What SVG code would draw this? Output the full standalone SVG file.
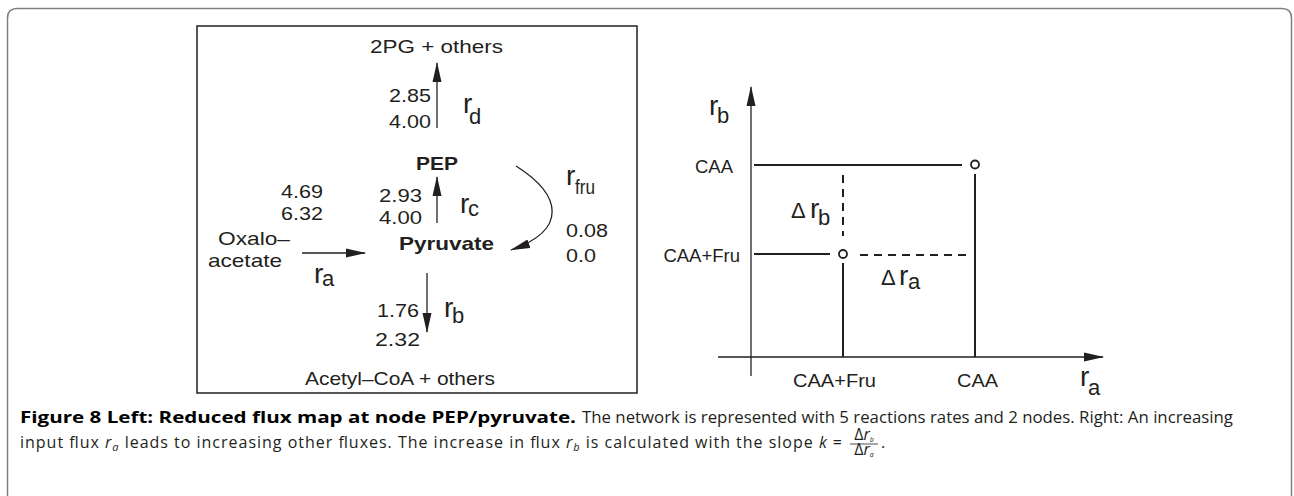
<svg xmlns="http://www.w3.org/2000/svg" width="1294" height="496" viewBox="0 0 1294 496">
<style>
.t{font-family:"Liberation Sans",Arial,sans-serif;font-size:18.5px;fill:#231f20}
.b{font-weight:bold}
.r{font-size:28px}
.s{font-size:22px}
.d{font-size:22px}
.cap{font-family:"Open Sans","Noto Sans",sans-serif;font-size:16px;fill:#231f20}
.cb{font-weight:bold;fill:#000}
.i{font-style:italic}
.ln{stroke:#231f20;fill:none;stroke-width:1.3}
.th{stroke:#231f20;fill:none;stroke-width:2}
.ds{stroke:#231f20;fill:none;stroke-width:2;stroke-dasharray:8 6}
</style>
<defs>
<marker id="ah" markerWidth="20" markerHeight="10" refX="19" refY="5" orient="auto" markerUnits="userSpaceOnUse"><path d="M0,0.5 L20,5 L0,9.5 Z" fill="#231f20"/></marker>
</defs>
<rect width="1294" height="496" fill="#fff"/>
<path d="M7.5,496 V18 Q7.5,8.5 17,8.5 H1282 Q1291.5,8.5 1291.5,18 V496" fill="none" stroke="#808080" stroke-width="1.5"/>

<g id="fluxmap">
<rect x="197" y="26" width="440" height="367" fill="none" stroke="#231f20" stroke-width="1.5"/>
</g>

<g id="connectors">
<line class="ln" x1="437" y1="128" x2="437" y2="63" marker-end="url(#ah)"/>
<line class="ln" x1="437" y1="223" x2="437" y2="177" marker-end="url(#ah)"/>
<line class="ln" x1="302" y1="253" x2="365" y2="253" marker-end="url(#ah)"/>
<line class="ln" x1="427" y1="273" x2="427" y2="332" marker-end="url(#ah)"/>
<path class="ln" d="M516,166 C562,195 568,230 511,250" marker-end="url(#ah)"/>
</g>

<g id="node-2pg"><text class="t" x="370" y="53" textLength="133" lengthAdjust="spacingAndGlyphs">2PG + others</text></g>
<g id="label-rd">
<text class="t" x="389" y="102" textLength="42" lengthAdjust="spacingAndGlyphs">2.85</text>
<text class="t" x="389" y="128" textLength="42" lengthAdjust="spacingAndGlyphs">4.00</text>
<text class="t r" x="463" y="113">r</text><text class="t s" x="469" y="124">d</text>
</g>
<g id="node-pep"><text class="t b" x="416" y="170" textLength="42" lengthAdjust="spacingAndGlyphs">PEP</text></g>
<g id="label-rc">
<text class="t" x="379" y="202" textLength="43" lengthAdjust="spacingAndGlyphs">2.93</text>
<text class="t" x="379" y="224" textLength="43" lengthAdjust="spacingAndGlyphs">4.00</text>
<text class="t r" x="460" y="213">r</text><text class="t s" x="468" y="216">c</text>
</g>
<g id="node-oxalo">
<text class="t" x="218" y="245" textLength="72" lengthAdjust="spacingAndGlyphs">Oxalo–</text>
<text class="t" x="208" y="267" textLength="74" lengthAdjust="spacingAndGlyphs">acetate</text>
</g>
<g id="label-ra">
<text class="t" x="281" y="198" textLength="42" lengthAdjust="spacingAndGlyphs">4.69</text>
<text class="t" x="281" y="220" textLength="42" lengthAdjust="spacingAndGlyphs">6.32</text>
<text class="t r" x="314" y="283">r</text><text class="t s" x="322" y="286">a</text>
</g>
<g id="node-pyruvate"><text class="t b" x="399" y="250" textLength="95" lengthAdjust="spacingAndGlyphs">Pyruvate</text></g>
<g id="label-rb">
<text class="t" x="377" y="317" textLength="42" lengthAdjust="spacingAndGlyphs">1.76</text>
<text class="t" x="375" y="346" textLength="45" lengthAdjust="spacingAndGlyphs">2.32</text>
<text class="t r" x="444" y="317">r</text><text class="t s" x="452" y="323">b</text>
</g>
<g id="label-rfru">
<text class="t r" x="566" y="185">r</text><text class="t" x="575" y="194" style="font-size:20px" textLength="20" lengthAdjust="spacingAndGlyphs">fru</text>
<text class="t" x="566" y="237" textLength="42" lengthAdjust="spacingAndGlyphs">0.08</text>
<text class="t" x="566" y="262" textLength="30" lengthAdjust="spacingAndGlyphs">0.0</text>
</g>
<g id="node-acetyl"><text class="t" x="305" y="385" textLength="190" lengthAdjust="spacingAndGlyphs">Acetyl–CoA + others</text></g>

<g id="chart">
<line class="ln" x1="751" y1="376" x2="751" y2="87" marker-end="url(#ah)"/>
<line class="ln" x1="718" y1="357" x2="1103" y2="357" marker-end="url(#ah)"/>
<line class="th" x1="754" y1="165" x2="962" y2="165"/>
<circle cx="975" cy="164.5" r="4" fill="none" stroke="#231f20" stroke-width="1.8"/>
<line class="th" x1="975" y1="174" x2="975" y2="357"/>
<line class="ds" x1="843" y1="175" x2="843" y2="236"/>
<line class="th" x1="754" y1="254" x2="830" y2="254"/>
<circle cx="843" cy="254" r="4" fill="none" stroke="#231f20" stroke-width="1.8"/>
<line class="th" x1="843" y1="263" x2="843" y2="357"/>
<line class="ds" x1="860" y1="255" x2="966" y2="255"/>
<text class="t r" x="709" y="115">r</text><text class="t s" x="717" y="123">b</text>
<text class="t" x="733" y="173" text-anchor="end">CAA</text>
<text class="t" x="740" y="262" text-anchor="end">CAA+Fru</text>
<text class="t d" x="791" y="218">Δ</text><text class="t r" x="810" y="218">r</text><text class="t s" x="818" y="225">b</text>
<text class="t d" x="881" y="285">Δ</text><text class="t r" x="899" y="285">r</text><text class="t s" x="908" y="289">a</text>
<text class="t" x="793" y="387" textLength="83" lengthAdjust="spacingAndGlyphs">CAA+Fru</text>
<text class="t" x="957" y="387" textLength="41" lengthAdjust="spacingAndGlyphs">CAA</text>
<text class="t r" x="1080" y="386">r</text><text class="t s" x="1088" y="395">a</text>
</g>

<g id="caption">
<text class="cap cb" x="20" y="423" textLength="556" lengthAdjust="spacingAndGlyphs">Figure 8 Left: Reduced flux map at node PEP/pyruvate.</text>
<text class="cap" x="582" y="423" textLength="651" lengthAdjust="spacingAndGlyphs">The network is represented with 5 reactions rates and 2 nodes. Right: An increasing</text>
<text class="cap" x="20" y="448" textLength="822" lengthAdjust="spacing">input flux <tspan class="i">r</tspan><tspan class="i" font-size="11" dy="3">a</tspan><tspan dy="-3"> leads to increasing other fluxes. The increase in flux </tspan><tspan class="i">r</tspan><tspan class="i" font-size="11" dy="3">b</tspan><tspan dy="-3"> is calculated with the slope </tspan><tspan class="i">k</tspan> =</text>
<text class="cap" x="864" y="440" font-size="9.5" text-anchor="middle">Δ<tspan class="i">r</tspan><tspan class="i" font-size="7" dy="1.5">b</tspan></text>
<line x1="850" y1="444" x2="878" y2="444" stroke="#231f20" stroke-width="0.8"/>
<text class="cap" x="864" y="455" font-size="9.5" text-anchor="middle">Δ<tspan class="i">r</tspan><tspan class="i" font-size="7" dy="1.5">a</tspan></text>
<text class="cap" x="881" y="448">.</text>
</g>
</svg>
